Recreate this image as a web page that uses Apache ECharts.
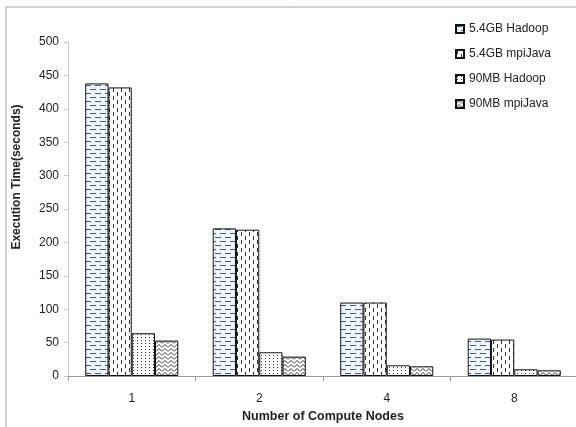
<!DOCTYPE html>
<html>
<head>
<meta charset="utf-8">
<script src="https://cdn.jsdelivr.net/npm/echarts@6/dist/echarts.min.js"></script>
<style>
  html, body { margin: 0; padding: 0; background: #fff; }
  #chart { width: 576px; height: 427px; }
</style>
</head>
<body>
<div id="chart"></div>
<script>
const nodes = ['1', '2', '4', '8']
const seriesNames = ['5.4GB Hadoop', '5.4GB mpiJava', '90MB Hadoop', '90MB mpiJava']
const hadoop54 = [438, 221, 110, 56]
const mpiJava54 = [432, 219, 110, 54.5]
const hadoop90 = [64, 35.5, 16, 10]
const mpiJava90 = [53, 29, 14.5, 8.5]
const yTicks = { min: 0, max: 500, interval: 50 }

// little canvas tiles for the hatch fills
function tile(w, h, bg, draw) {
  const c = document.createElement('canvas')
  c.width = w
  c.height = h
  const ctx = c.getContext('2d')
  ctx.fillStyle = bg
  ctx.fillRect(0, 0, w, h)
  draw(ctx)
  return { image: c, repeat: 'repeat' }
}

const fills = [
  tile(10, 8, '#eef4fb', ctx => {
    ctx.strokeStyle = '#4b5873'
    ctx.lineWidth = 1
    ctx.beginPath()
    ctx.moveTo(0, 1.5); ctx.lineTo(6, 1.5)
    ctx.moveTo(5, 5.5); ctx.lineTo(10, 5.5)
    ctx.moveTo(0, 5.5); ctx.lineTo(1, 5.5)
    ctx.stroke()
  }),
  tile(8, 8, '#ffffff', ctx => {
    ctx.strokeStyle = '#333'
    ctx.lineWidth = 1
    ctx.beginPath()
    ctx.moveTo(1.5, 0); ctx.lineTo(1.5, 4)
    ctx.moveTo(5.5, 4); ctx.lineTo(5.5, 8)
    ctx.stroke()
  }),
  tile(4, 3, '#ffffff', ctx => {
    ctx.fillStyle = '#333'
    ctx.fillRect(1, 1, 1, 1)
  }),
  tile(6, 4, '#ffffff', ctx => {
    ctx.strokeStyle = '#333'
    ctx.lineWidth = 1
    ctx.beginPath()
    ctx.moveTo(0, 3.5); ctx.lineTo(3, 0.5); ctx.lineTo(6, 3.5)
    ctx.stroke()
  })
]

const font = 'Liberation Sans, Arial, sans-serif'
const chart = echarts.init(document.getElementById('chart'))
const datasets = [hadoop54, mpiJava54, hadoop90, mpiJava90]

chart.setOption({
  animation: false,
  textStyle: { fontFamily: font },
  graphic: [{
    type: 'rect',
    shape: { x: 6, y: 7, width: 700, height: 600 },
    style: { fill: 'none', stroke: '#a0a0a0', lineWidth: 1 },
    silent: true
  }],
  legend: {
    orient: 'vertical',
    left: 450,
    top: 18,
    itemWidth: 8,
    itemHeight: 8,
    itemGap: 13,
    icon: 'rect',
    textStyle: { fontSize: 12, color: '#222', fontFamily: font },
    data: seriesNames
  },
  grid: { left: 68, top: 42, width: 510, bottom: 51, outerBoundsMode: 'none' },
  xAxis: {
    type: 'category',
    data: nodes,
    name: 'Number of Compute Nodes',
    nameLocation: 'middle',
    nameGap: 34,
    nameTextStyle: { fontWeight: 'bold', fontSize: 12.5, color: '#222' },
    axisLine: { lineStyle: { color: '#9a9a9a' } },
    axisTick: { show: true, length: 5, lineStyle: { color: '#9a9a9a' } },
    axisLabel: { fontSize: 12, color: '#222', margin: 17 }
  },
  yAxis: {
    type: 'value',
    min: yTicks.min,
    max: yTicks.max,
    interval: yTicks.interval,
    name: 'Execution Time(seconds)',
    nameLocation: 'middle',
    nameGap: 45,
    nameTextStyle: { fontWeight: 'bold', fontSize: 12, color: '#222', padding: [0, 0, 0, 64] },
    splitLine: { show: false },
    axisLine: { show: true, lineStyle: { color: '#c8c8c8' } },
    axisTick: { show: true, length: 4, lineStyle: { color: '#c8c8c8' } },
    axisLabel: { fontSize: 12, color: '#222', margin: 9 }
  },
  series: datasets.map((d, i) => ({
    name: seriesNames[i],
    type: 'bar',
    data: d,
    barGap: '0%',
    barCategoryGap: '27%',
    itemStyle: { color: fills[i], borderColor: '#111', borderWidth: 1 }
  }))
})
</script>
</body>
</html>
